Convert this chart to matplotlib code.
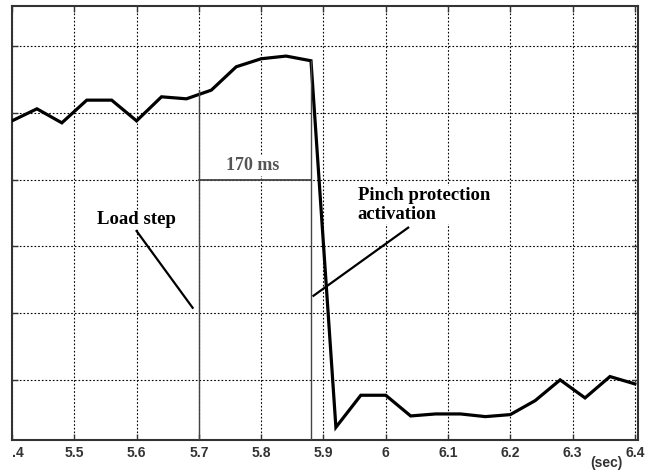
import numpy as np
import matplotlib.pyplot as plt

# Time samples (sec) and measured signal (arbitrary units, gridlines at 0..5)
t = [5.40, 5.44, 5.48, 5.52, 5.56, 5.60, 5.64, 5.68, 5.72, 5.76, 5.80, 5.84, 5.88,
     5.92, 5.96, 6.00, 6.04, 6.08, 6.12, 6.16, 6.20, 6.24, 6.28, 6.32, 6.36, 6.40]
signal = [3.88, 4.06, 3.85, 4.19, 4.19, 3.88, 4.24, 4.21, 4.34, 4.69, 4.81, 4.85, 4.78,
          -0.71, -0.23, -0.23, -0.54, -0.51, -0.51, -0.55, -0.52, -0.31, 0.00, -0.27, 0.05, -0.06]

xticks = [5.4, 5.5, 5.6, 5.7, 5.8, 5.9, 6.0, 6.1, 6.2, 6.3, 6.4]
xticklabels = ['.4', '5.5', '5.6', '5.7', '5.8', '5.9', '6', '6.1', '6.2', '6.3', '6.4']
yticks = [0, 1, 2, 3, 4, 5]

# Annotation data
t_step = 5.70
t_pinch = 5.88
y_step_top = 4.34
y_pinch_top = 4.78
y_span = 3.0

fig = plt.figure(figsize=(6.53, 4.73), dpi=100)
ax = fig.add_axes([0.0184, 0.0698, 0.9586, 0.9175])

ax.plot(t, signal, color='black', lw=2.3, solid_joinstyle='miter', zorder=3)

# Delay markers
ax.plot([t_step, t_step], [-0.9, y_step_top], color='#444444', lw=1.0, zorder=3)
ax.plot([t_pinch, t_pinch], [-0.9, y_pinch_top], color='#444444', lw=1.0, zorder=3)
ax.plot([t_step, t_pinch], [y_span, y_span], color='#444444', lw=1.3, zorder=3)

box = dict(facecolor='white', edgecolor='none', pad=1)
ax.text(5.787, 3.21, '170 ms', family='Liberation Serif', weight='bold',
        fontsize=13, color='#555555', ha='center', va='center', bbox=box, zorder=4)

# Labels with pointer lines
ax.text(5.599, 2.40, 'Load step', family='Liberation Serif', weight='bold',
        fontsize=13.5, color='black', ha='center', va='center', bbox=box, zorder=4)
ax.plot([5.60, 5.69], [2.23, 1.08], color='black', lw=1.6, zorder=3)
ax.text(5.955, 2.62, 'Pinch protection\nactivation', family='Liberation Serif',
        weight='bold', fontsize=13.5, color='black', ha='left', va='center',
        linespacing=1.1, bbox=box, zorder=4)
ax.plot([6.036, 5.884], [2.28, 1.26], color='black', lw=1.6, zorder=3)

ax.set_xlim(5.4, 6.405)
ax.set_ylim(-0.9, 5.6)
ax.set_xticks(xticks)
ax.set_xticklabels(xticklabels, family='Liberation Sans', weight='bold',
                   fontsize=10, color='#333333')
ax.set_yticks(yticks)
ax.set_yticklabels([])
ax.get_xticklabels()[0].set_ha('left')
ax.tick_params(direction='in', length=4, width=1, color='#333333',
               top=True, right=True, pad=4)
ax.grid(True, color='black', ls=(0, (1.5, 1.8)), lw=0.8)
for s in ax.spines.values():
    s.set_color('#333333')
    s.set_linewidth(1.5)

fig.text(606 / 653, 1 - 463 / 473, '(sec)', family='Liberation Sans', weight='bold',
         fontsize=10, color='#333333', ha='center', va='center')

fig.savefig('out.png', dpi=100)
